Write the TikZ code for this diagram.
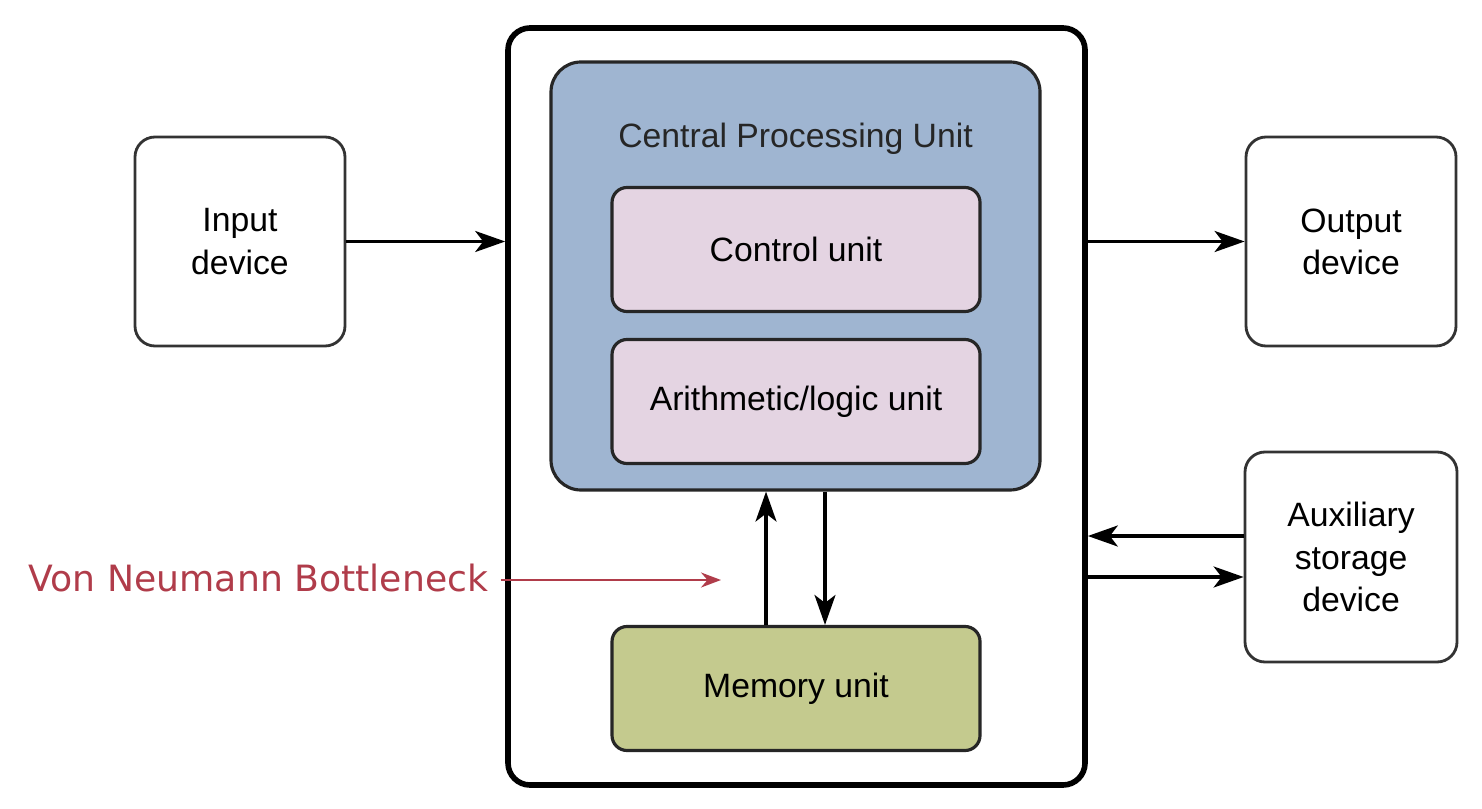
\documentclass[tikz,border=0pt]{standalone}
\usepackage{fontspec}
\setmainfont{Liberation Sans}
\newfontfamily\labelfont{DejaVu Sans}
\usetikzlibrary{shapes.geometric, arrows.meta, positioning, calc}

\definecolor{cpublue}{HTML}{9FB5D1}
\definecolor{unitpink}{HTML}{E4D4E2}
\definecolor{memgreen}{HTML}{C4CA8E}
\definecolor{neckred}{HTML}{B03C4A}

\begin{document}
\begin{tikzpicture}[node distance=1.25cm, font=\fontsize{9.6}{12}\selectfont]
        \tikzstyle{device} = [rectangle, rounded corners=0.2cm, minimum width=2.1cm, minimum height=2.09cm, text centered, align=center, draw=black!80, line width=0.8pt, fill=white]
        \tikzstyle{computer} = [rectangle, rounded corners=0.22cm, minimum width=5.77cm, minimum height=7.57cm, draw=black, line width=1.6pt, fill=white]
        \tikzstyle{cpu} = [rectangle, rounded corners=0.3cm, minimum width=4.89cm, minimum height=4.28cm, draw=black!85, line width=0.9pt, fill=cpublue]
        \tikzstyle{unit} = [rectangle, rounded corners=0.15cm, minimum width=3.68cm, minimum height=1.24cm, text centered, draw=black!85, line width=0.9pt, fill=unitpink]
        \tikzstyle{arrow} = [line width=0.9pt,-{Stealth[length=0.3cm, width=0.21cm, inset=0.08cm]}]

        \useasboundingbox (0,0) rectangle (14.82,8.08);

        \node (comp) [computer] at (7.965,4.015) {};
        \node (cpu) [cpu] at (7.955,5.32) {};
        \node (cpulabel) at (7.955,6.69) {\color{black!85}Central Processing Unit};
        \node (cu) [unit] at (7.96,5.585) {Control unit};
        \node (alu) [unit] at (7.96,4.065) {Arithmetic/logic unit};
        \node (mem) [unit, fill=memgreen] at (7.96,1.195) {Memory unit};

        \node (in) [device] at (2.40,5.665) {Input\\device};
        \node (out) [device] at (13.51,5.665) {Output\\device};
        \node (aux) [device, minimum width=2.12cm, minimum height=2.1cm] at (13.51,2.51) {Auxiliary\\storage\\device};

        \draw [arrow] (in) -- (in -| comp.west);
        \draw [arrow] (comp.east |- out) -- (out);
        \draw [arrow] ([yshift=0.21cm]aux.west) -- ([yshift=0.21cm]aux.west -| comp.east);
        \draw [arrow] ([yshift=-0.2cm]aux.west -| comp.east) -- ([yshift=-0.2cm]aux.west);
        \draw [arrow] ([xshift=-0.3cm]mem.north) -- ([xshift=-0.3cm]mem.north |- cpu.south);
        \draw [arrow] ([xshift=0.29cm]mem.north |- cpu.south) -- ([xshift=0.29cm]mem.north);

        \node (neck) at (2.585,2.30) {\labelfont\fontsize{10.3}{12}\selectfont\color{neckred}Von Neumann Bottleneck};
        \coordinate (neckend) at (7.21,2.28);
        \draw [neckred, line width=0.6pt, -{Stealth[length=0.2cm, width=0.15cm]}] (neck.east |- neckend) -- (neckend);
    \end{tikzpicture}
\end{document}
